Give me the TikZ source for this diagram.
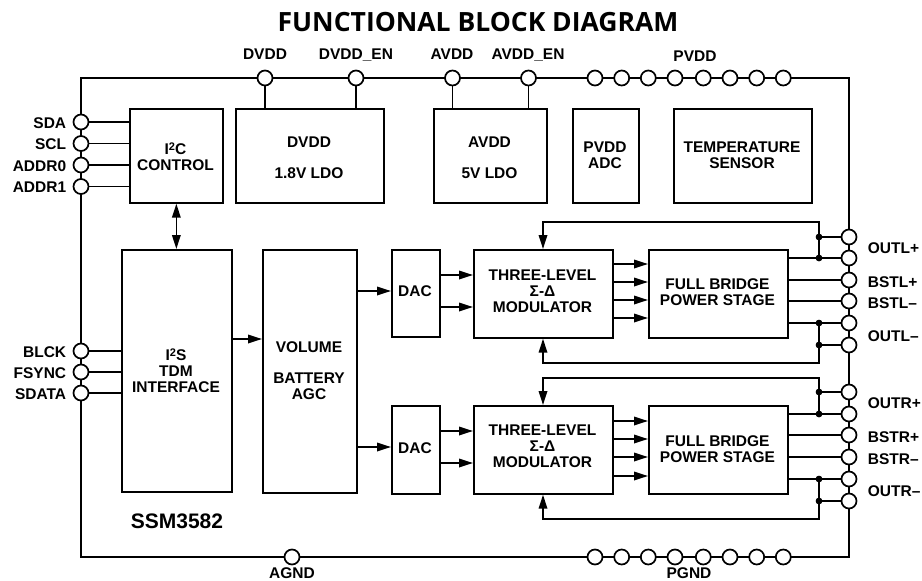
\documentclass[tikz,border=0pt]{standalone}
\usepackage{fontspec}
\setmainfont{Liberation Sans}
\newfontfamily\titlefont{Open Sans}
\usetikzlibrary{arrows.meta}
\newcommand{\suptwo}{\raisebox{4.2pt}{\fontsize{11}{11}\selectfont 2}}
\begin{document}
\begin{tikzpicture}[x=1pt,y=-1pt,
  line width=1.7pt,
  blk/.style={draw, line width=1.7pt, inner sep=0pt, anchor=north west},
  pin/.style={circle, draw, fill=white, line width=1.7pt, minimum size=15pt, inner sep=0pt},
  lbl/.style={font=\fontsize{15.5}{16}\selectfont\bfseries, inner sep=0pt},
  txt/.style={font=\fontsize{15.5}{16}\selectfont\bfseries, align=center, inner sep=0pt},
  arr/.style={-{Triangle[length=14pt,width=8.5pt]}},
  dbl/.style={{Triangle[length=14pt,width=8.5pt]}-{Triangle[length=14pt,width=8.5pt]}},
  dot/.style={circle, fill=black, inner sep=0pt, minimum size=6.5pt},
]
\useasboundingbox (0,0) rectangle (922,581);

% title
\node[font=\titlefont\fontsize{26.5}{28}\selectfont\bfseries, anchor=base, inner sep=0pt] (title) at (478,31) {FUNCTIONAL BLOCK DIAGRAM};

% package outline
\draw[line width=2pt] (81,78) rectangle (849,557);

% blocks
\node[blk, minimum width=93pt,  minimum height=94pt] (i2c)  at (129,108) {};
\node[blk, minimum width=148pt, minimum height=94pt] (dvdd) at (235,108) {};
\node[blk, minimum width=113pt, minimum height=94pt] (avdd) at (433,108) {};
\node[blk, minimum width=66pt,  minimum height=94pt] (padc) at (572,108) {};
\node[blk, minimum width=138pt, minimum height=94pt] (temp) at (673,108) {};
\node[blk, minimum width=110pt, minimum height=242pt] (i2s) at (121,249) {};
\node[blk, minimum width=94pt,  minimum height=243pt] (vol) at (262,249) {};
\node[blk, minimum width=48pt,  minimum height=87pt] (dac1) at (391,249) {};
\node[blk, minimum width=48pt,  minimum height=88pt] (dac2) at (391,405) {};
\node[blk, minimum width=139pt, minimum height=88pt] (mod1) at (473,249) {};
\node[blk, minimum width=139pt, minimum height=88pt] (fb1)  at (648,249) {};
\node[blk, minimum width=139pt, minimum height=88pt] (mod2) at (473,405) {};
\node[blk, minimum width=139pt, minimum height=88pt] (fb2)  at (648,405) {};

% block texts
\node[txt] (tI2C) at (175.5,156.5) {I\suptwo C\\CONTROL};
\node[lbl, anchor=base] (tDVDD) at (309,147) {DVDD};
\node[lbl, anchor=base] (tLDO1) at (309,178) {1.8V LDO};
\node[lbl, anchor=base] (tAVDD) at (489.5,147) {AVDD};
\node[lbl, anchor=base] (tLDO2) at (489.5,178) {5V LDO};
\node[txt] (tPADC) at (605,155.5) {PVDD\\ADC};
\node[txt] (tTEMP) at (742,155.5) {TEMPERATURE\\SENSOR};
\node[txt] (tI2S) at (176,371) {I\suptwo S\\TDM\\INTERFACE};
\node[lbl, anchor=base] (tVOL) at (309,352) {VOLUME};
\node[txt] (tAGC) at (309,386) {BATTERY\\AGC};
\node[lbl] (tDAC1) at (415,291.5) {DAC};
\node[lbl] (tDAC2) at (415,448) {DAC};
\node[txt] (tMOD1) at (542.5,291) {THREE-LEVEL\\Σ-Δ\\MODULATOR};
\node[txt] (tFB1) at (717.5,292.5) {FULL BRIDGE\\POWER STAGE};
\node[txt] (tMOD2) at (542.5,446.5) {THREE-LEVEL\\Σ-Δ\\MODULATOR};
\node[txt] (tFB2) at (717.5,449.5) {FULL BRIDGE\\POWER STAGE};
\node[font=\fontsize{21}{22}\selectfont\bfseries, anchor=base west, inner sep=0pt] (tSSM) at (130,528) {SSM3582};

% pins: top
\node[pin] (pDVDD) at (265,78) {};
\node[pin] (pDVDDEN) at (356,78) {};
\node[pin] (pAVDD) at (452.5,78) {};
\node[pin] (pAVDDEN) at (528.5,78) {};
\foreach \i/\x in {1/595,2/621.7,3/648.3,4/675,5/703.3,6/730,7/756.7,8/783.3} {
  \node[pin] (pv\i) at (\x,78) {};
  \node[pin] (pg\i) at (\x,557) {};
}
\node[pin] (pAGND) at (292,557) {};
% pins: left
\node[pin] (pSDA) at (81,122) {};
\node[pin] (pSCL) at (81,143.5) {};
\node[pin] (pADDR0) at (81,165) {};
\node[pin] (pADDR1) at (81,186.5) {};
\node[pin] (pBLCK) at (81,351) {};
\node[pin] (pFSYNC) at (81,372) {};
\node[pin] (pSDATA) at (81,393) {};
% pins: right
\node[pin] (pOL1) at (849,237) {};
\node[pin] (pOL2) at (849,258) {};
\node[pin] (pBL1) at (849,280) {};
\node[pin] (pBL2) at (849,301) {};
\node[pin] (pOL3) at (849,323) {};
\node[pin] (pOL4) at (849,345) {};
\node[pin] (pOR1) at (849,392) {};
\node[pin] (pOR2) at (849,414) {};
\node[pin] (pBR1) at (849,435) {};
\node[pin] (pBR2) at (849,457) {};
\node[pin] (pOR3) at (849,479) {};
\node[pin] (pOR4) at (849,501) {};

% pin labels
\node[lbl, anchor=base] (lDVDD) at (265,59.5) {DVDD};
\node[lbl, anchor=base] (lDVDDEN) at (356,59.5) {DVDD\_EN};
\node[lbl, anchor=base] (lAVDD) at (452,59.5) {AVDD};
\node[lbl, anchor=base] (lAVDDEN) at (528,59.5) {AVDD\_EN};
\node[lbl, anchor=base] (lPVDD) at (695,61) {PVDD};
\node[lbl, anchor=base] (lAGND) at (292,578) {AGND};
\node[lbl, anchor=base] (lPGND) at (689,578) {PGND};
\node[lbl, anchor=base east] (lSDA) at (67,128) {SDA};
\node[lbl, anchor=base east] (lSCL) at (67,149.5) {SCL};
\node[lbl, anchor=base east] (lADDR0) at (67,171) {ADDR0};
\node[lbl, anchor=base east] (lADDR1) at (67,192.5) {ADDR1};
\node[lbl, anchor=base east] (lBLCK) at (67,357) {BLCK};
\node[lbl, anchor=base east] (lFSYNC) at (67,378) {FSYNC};
\node[lbl, anchor=base east] (lSDATA) at (67,399) {SDATA};
\node[lbl, anchor=base west] (lOL1) at (867,253) {OUTL+};
\node[lbl, anchor=base west] (lBL1) at (867,287) {BSTL+};
\node[lbl, anchor=base west] (lBL2) at (867,308) {BSTL–};
\node[lbl, anchor=base west] (lOL2) at (867,341) {OUTL–};
\node[lbl, anchor=base west] (lOR1) at (867,408) {OUTR+};
\node[lbl, anchor=base west] (lBR1) at (867,442) {BSTR+};
\node[lbl, anchor=base west] (lBR2) at (867,464) {BSTR–};
\node[lbl, anchor=base west] (lOR2) at (867,496) {OUTR–};

% supply connections
\draw (pDVDD.south) -- (pDVDD.south |- dvdd.north);
\draw (pDVDDEN.south) -- (pDVDDEN.south |- dvdd.north);
\draw (pAVDD.south) -- (pAVDD.south |- avdd.north);
\draw (pAVDDEN.south) -- (pAVDDEN.south |- avdd.north);

% left pin connections
\foreach \p in {pSDA,pSCL,pADDR0,pADDR1} \draw (\p.east) -- (\p.east -| i2c.west);
\foreach \p in {pBLCK,pFSYNC,pSDATA} \draw (\p.east) -- (\p.east -| i2s.west);

% signal flow
\draw[dbl] (i2c.south) -- (i2c.south |- i2s.north);
\draw[arr] (i2s.east |- 0,339) -- (vol.west |- 0,339);
\draw[arr] (vol.east |- 0,291) -- (dac1.west |- 0,291);
\draw[arr] (vol.east |- 0,447) -- (dac2.west |- 0,447);
\foreach \y in {275,307} \draw[arr] (dac1.east |- 0,\y) -- (mod1.west |- 0,\y);
\foreach \y in {431,463} \draw[arr] (dac2.east |- 0,\y) -- (mod2.west |- 0,\y);
\foreach \y in {264,282,300,318} \draw[arr] (mod1.east |- 0,\y) -- (fb1.west |- 0,\y);
\foreach \y in {421,439,457,476} \draw[arr] (mod2.east |- 0,\y) -- (fb2.west |- 0,\y);

% left channel outputs
\node[dot] (dL1) at (819,237) {};
\node[dot] (dL2) at (819,258) {};
\node[dot] (dL3) at (819,323) {};
\node[dot] (dL4) at (819,345) {};
\coordinate (tlL) at (543,222); \coordinate (trL) at (819,222);
\coordinate (blL) at (543,363); \coordinate (brL) at (819,363);
\draw (dL1.center) -- (pOL1.west);
\draw (fb1.east |- pOL2) -- (pOL2.west);
\draw (fb1.east |- pBL1) -- (pBL1.west);
\draw (fb1.east |- pBL2) -- (pBL2.west);
\draw (fb1.east |- pOL3) -- (pOL3.west);
\draw (dL4.center) -- (pOL4.west);
\draw[arr] (dL2.center) -- (trL) -- (tlL) -- (tlL |- mod1.north);
\draw[arr] (dL3.center) -- (brL) -- (blL) -- (blL |- mod1.south);
\node[dot] at (dL1) {}; \node[dot] at (dL2) {}; \node[dot] at (dL3) {}; \node[dot] at (dL4) {};

% right channel outputs
\node[dot] (dR1) at (819,392) {};
\node[dot] (dR2) at (819,414) {};
\node[dot] (dR3) at (819,479) {};
\node[dot] (dR4) at (819,501) {};
\coordinate (tlR) at (543,378); \coordinate (trR) at (819,378);
\coordinate (blR) at (543,519); \coordinate (brR) at (819,519);
\draw (dR1.center) -- (pOR1.west);
\draw (fb2.east |- pOR2) -- (pOR2.west);
\draw (fb2.east |- pBR1) -- (pBR1.west);
\draw (fb2.east |- pBR2) -- (pBR2.west);
\draw (fb2.east |- pOR3) -- (pOR3.west);
\draw (dR4.center) -- (pOR4.west);
\draw[arr] (dR2.center) -- (trR) -- (tlR) -- (tlR |- mod2.north);
\draw[arr] (dR3.center) -- (brR) -- (blR) -- (blR |- mod2.south);
\node[dot] at (dR1) {}; \node[dot] at (dR2) {}; \node[dot] at (dR3) {}; \node[dot] at (dR4) {};
\end{tikzpicture}
\end{document}
